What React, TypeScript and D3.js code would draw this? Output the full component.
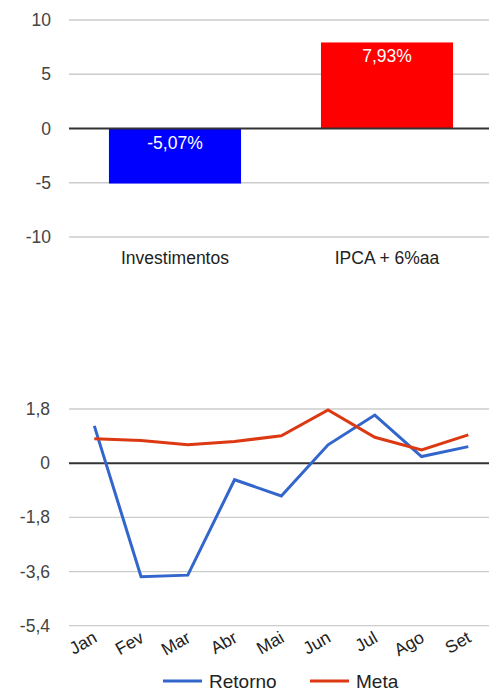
import React from "react";
import * as d3 from "d3";

const barCategories = ["Investimentos", "IPCA + 6%aa"];
const barValues = [-5.07, 7.93];
const barLabels = ["-5,07%", "7,93%"];
const barColors = ["#0000ff", "#ff0000"];
const barTicks = [10, 5, 0, -5, -10];

const months = ["Jan", "Fev", "Mar", "Abr", "Mai", "Jun", "Jul", "Ago", "Set"];
const retorno = [1.24, -3.77, -3.72, -0.55, -1.09, 0.61, 1.6, 0.22, 0.55];
const meta = [0.81, 0.75, 0.61, 0.72, 0.91, 1.77, 0.86, 0.44, 0.94];
const lineTicks = [1.8, 0, -1.8, -3.6, -5.4];
const seriesNames = ["Retorno", "Meta"];
const seriesColors = ["#3366cc", "#dc3912"];

const FONT = "'Liberation Sans', Arial, sans-serif";
const fmt = (v: number) => String(v).replace(".", ",");

export default function App() {
  const W = 489;
  const H = 691;
  const left = 69;
  const right = 489;

  // top bar chart
  const yB = d3.scaleLinear().domain([-10, 10]).range([237, 20]);
  const xB = d3.scaleBand().domain(barCategories).range([71, 491]).paddingInner(0.377).paddingOuter(0.179);

  // bottom line chart
  const yL = d3.scaleLinear().domain([-5.4, 1.8]).range([625.7, 409]);
  const xL = d3.scalePoint().domain(months).range([94.3, 468.3]);
  const line = d3
    .line<number>()
    .x((_, i) => xL(months[i]) as number)
    .y((d) => yL(d));

  return (
    <svg
      width={W}
      height={H}
      style={{ position: "absolute", left: 0, top: 0, background: "#fff" }}
      fontFamily={FONT}
    >
      {/* Top chart grid */}
      {barTicks.map((t) => (
        <g key={"bt" + t}>
          {t !== 0 && (
            <line x1={left} x2={right} y1={yB(t)} y2={yB(t)} stroke="#cccccc" strokeWidth={1.3} />
          )}
          <text x={51} y={yB(t)} dy="0.35em" textAnchor="end" fontSize={17.5} fill="#444">
            {t}
          </text>
        </g>
      ))}
      {barCategories.map((c, i) => {
        const v = barValues[i];
        const x = xB(c) as number;
        const y0 = yB(Math.max(0, v));
        const y1 = yB(Math.min(0, v));
        return (
          <g key={c}>
            <rect x={x} y={y0} width={xB.bandwidth()} height={y1 - y0} fill={barColors[i]} />
            <text
              x={x + xB.bandwidth() / 2}
              y={y0 + 20}
              textAnchor="middle"
              fontSize={17.5}
              fill="#ffffff"
            >
              {barLabels[i]}
            </text>
            <text x={x + xB.bandwidth() / 2} y={264} textAnchor="middle" fontSize={17.5} fill="#222">
              {c}
            </text>
          </g>
        );
      })}
      <line x1={left} x2={right} y1={yB(0)} y2={yB(0)} stroke="#333" strokeWidth={2} />

      {/* Bottom chart grid */}
      {lineTicks.map((t) => (
        <g key={"lt" + t}>
          {t !== 0 && (
            <line x1={left} x2={right} y1={yL(t)} y2={yL(t)} stroke="#cccccc" strokeWidth={1.3} />
          )}
          <text x={50} y={yL(t)} dy="0.35em" textAnchor="end" fontSize={17.5} fill="#444">
            {fmt(t)}
          </text>
        </g>
      ))}
      <line x1={left} x2={right} y1={yL(0)} y2={yL(0)} stroke="#333" strokeWidth={2} />
      <path d={line(retorno) || ""} fill="none" stroke={seriesColors[0]} strokeWidth={3} />
      <path d={line(meta) || ""} fill="none" stroke={seriesColors[1]} strokeWidth={3} />
      {months.map((m) => (
        <text
          key={m}
          transform={`translate(${(xL(m) as number) + 4},${641}) rotate(-30)`}
          textAnchor="end"
          fontSize={17.5}
          fill="#222"
        >
          {m}
        </text>
      ))}

      {/* Legend */}
      {seriesNames.map((s, i) => {
        const lx = i === 0 ? 163 : 310;
        return (
          <g key={s}>
            <line x1={lx} x2={lx + 39} y1={681} y2={681} stroke={seriesColors[i]} strokeWidth={3} />
            <text x={lx + 46} y={681} dy="0.35em" fontSize={19} fill="#222">
              {s}
            </text>
          </g>
        );
      })}
    </svg>
  );
}
